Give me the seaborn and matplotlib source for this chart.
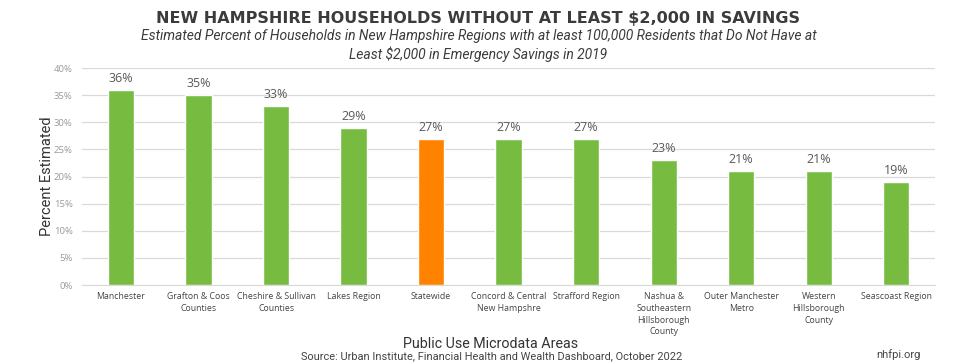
import numpy as np
import pandas as pd
import matplotlib
matplotlib.use("Agg")
import matplotlib.pyplot as plt
import seaborn as sns

regions = ['Manchester', 'Grafton & Coos\nCounties', 'Cheshire & Sullivan\nCounties',
           'Lakes Region', 'Statewide', 'Concord & Central\nNew Hampshre',
           'Strafford Region', 'Nashua &\nSoutheastern\nHillsborough\nCounty',
           'Outer Manchester\nMetro', 'Western\nHillsborough\nCounty', 'Seascoast Region']
pct = [36, 35, 33, 29, 27, 27, 27, 23, 21, 21, 19]
kind = ['region'] * 4 + ['state'] + ['region'] * 6
yticks = [0, 5, 10, 15, 20, 25, 30, 35, 40]

green = '#77bc41'
orange = '#ff8200'

df = pd.DataFrame({'region': regions, 'pct': pct, 'kind': kind})

sns.set_style('white')
plt.rcParams['font.family'] = ['Open Sans', 'DejaVu Sans']

fig = plt.figure(figsize=(9.57, 3.64), dpi=100)
ax = fig.add_axes([0.086, 0.217, 0.891, 0.596])

sns.barplot(data=df, x='region', y='pct', hue='kind',
            palette={'region': green, 'state': orange}, saturation=1,
            width=0.34, dodge=False, legend=False, ax=ax, zorder=3)

ax.set_ylim(0, 40)
ax.set_yticks(yticks)
ax.set_yticklabels([f'{t}%' for t in yticks], fontsize=6.8, color='#999999')
ax.tick_params(axis='y', length=0, pad=7)
ax.yaxis.grid(True, color='#d9d9d9', linewidth=0.9, zorder=0)
ax.set_axisbelow(True)
for s in ['top', 'right', 'left']:
    ax.spines[s].set_visible(False)
ax.spines['bottom'].set_color('#d9d9d9')
ax.set_xticks(range(len(regions)))
ax.set_xticklabels(regions, fontsize=6.3, color='#444444', linespacing=1.4, va='top')
ax.tick_params(axis='x', length=0, pad=5)
ax.set_xlim(-0.5, len(regions) - 0.5)

for i, v in enumerate(pct):
    ax.text(i, v + 0.9, f'{v}%', ha='center', va='bottom', fontsize=9, color='#595959')

ax.set_xlabel('')
ax.set_ylabel('Percent Estimated', fontsize=10.5, color='#333333', va='center',
              family=['Roboto', 'DejaVu Sans'])
ax.yaxis.set_label_coords(-0.041, 0.5)

fig.text(0.5, 0.95, 'NEW HAMPSHIRE HOUSEHOLDS WITHOUT AT LEAST $2,000 IN SAVINGS',
         ha='center', va='center', fontsize=11.5, fontweight='bold', color='#3b3b3b',
         family=['DejaVu Sans'])
fig.text(0.5, 0.875, 'Estimated Percent of Households in New Hampshire Regions with at least 100,000 Residents that Do Not Have at\nLeast $2,000 in Emergency Savings in 2019',
         ha='center', va='center', fontsize=10, style='italic', color='#3b3b3b',
         linespacing=1.3, family=['Roboto', 'DejaVu Sans'])
fig.text(0.513, 0.055, 'Public Use Microdata Areas', ha='center', va='center',
         fontsize=10.3, color='#333333', family=['Roboto', 'DejaVu Sans'])
fig.text(0.514, 0.022, 'Source: Urban Institute, Financial Health and Wealth Dashboard, October 2022',
         ha='center', va='center', fontsize=7.9, color='#444444', family=['Roboto', 'DejaVu Sans'])
fig.text(0.962, 0.025, 'nhfpi.org', ha='right', va='center', fontsize=8, color='#444444',
         family=['Roboto', 'DejaVu Sans'])

fig.savefig('out.png', dpi=100)
